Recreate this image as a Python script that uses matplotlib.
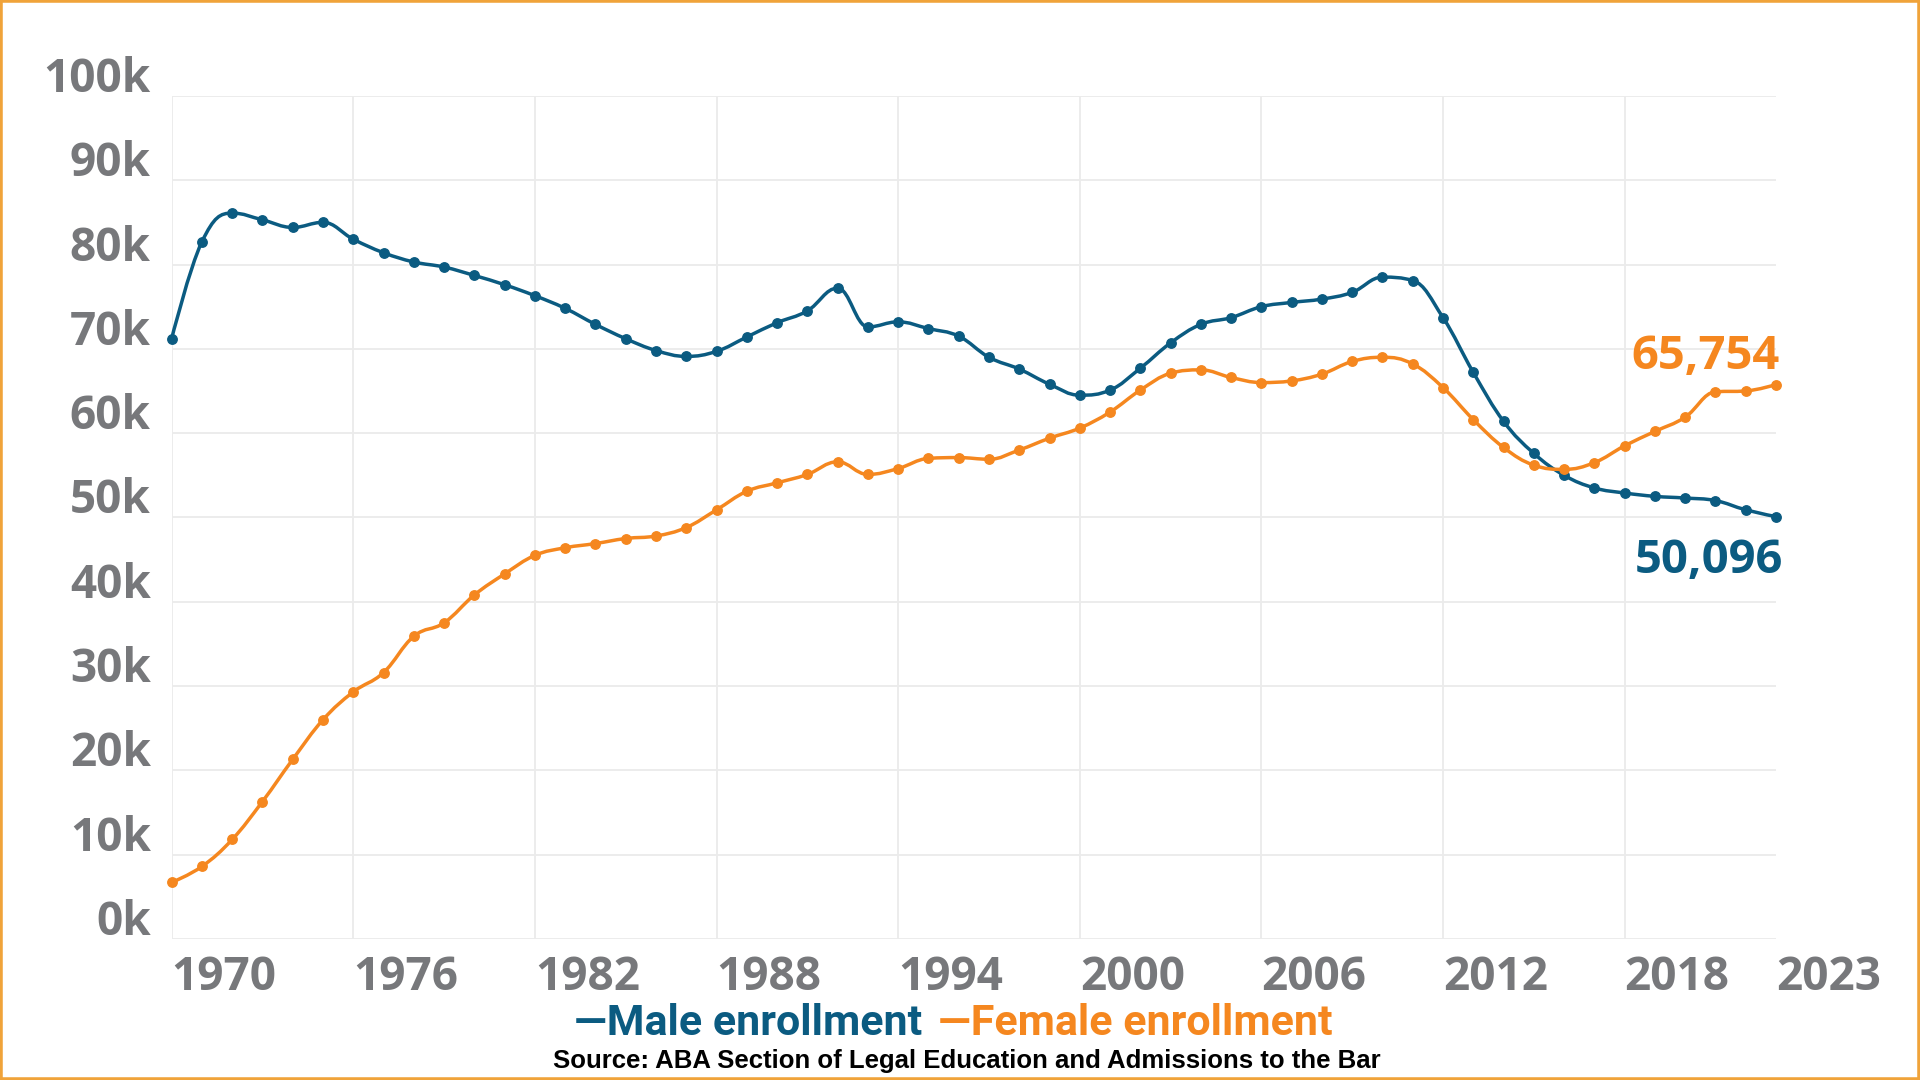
import matplotlib.pyplot as plt
import numpy as np
from matplotlib.path import Path
from matplotlib.patches import PathPatch, Rectangle
from matplotlib.transforms import ScaledTranslation

plt.rcParams['font.family'] = ['Open Sans', 'DejaVu Sans']

# Данные (тыс. студентов)
years = list(range(1970, 2024))
male = [71.2, 82.7, 86.1, 85.3, 84.4, 85.0, 83.0, 81.4, 80.3, 79.7,
        78.7, 77.6, 76.3, 74.8, 72.9, 71.2, 69.8, 69.1, 69.7, 71.4,
        73.1, 74.5, 77.2, 72.6, 73.2, 72.4, 71.5, 69.0, 67.6, 65.8,
        64.5, 65.1, 67.7, 70.7, 72.9, 73.7, 75.0, 75.5, 75.9, 76.7,
        78.5, 78.1, 73.7, 67.2, 61.4, 57.6, 55.0, 53.5, 52.9, 52.5,
        52.3, 52.0, 50.9, 50.096]
female = [6.7, 8.6, 11.8, 16.3, 21.3, 26.0, 29.3, 31.6, 35.9, 37.5,
          40.8, 43.3, 45.5, 46.4, 46.9, 47.5, 47.8, 48.8, 50.9, 53.1,
          54.1, 55.1, 56.6, 55.1, 55.8, 57.0, 57.1, 56.9, 58.0, 59.4,
          60.6, 62.5, 65.1, 67.1, 67.5, 66.6, 66.0, 66.2, 67.0, 68.5,
          69.0, 68.2, 65.4, 61.6, 58.3, 56.2, 55.7, 56.5, 58.5, 60.2,
          61.9, 64.9, 65.0, 65.754]
x_ticks = [1970, 1976, 1982, 1988, 1994, 2000, 2006, 2012, 2018, 2023]
y_ticks = [0, 10, 20, 30, 40, 50, 60, 70, 80, 90, 100]
y_labels = [f'{v}k' for v in y_ticks]
series_names = ['Male enrollment', 'Female enrollment']
source = 'Source: ABA Section of Legal Education and Admissions to the Bar'

blue = '#0b5b81'
orange = '#f5871f'
gray = '#77787b'
grid_c = '#ebebeb'


def spline_path(xs, ys, s=1.5):
    # сглаженная линия (кубические Безье, как spline в Highcharts)
    xs = np.asarray(xs, float)
    ys = np.asarray(ys, float)
    n = len(xs)
    lx, ly, rx, ry = xs.copy(), ys.copy(), xs.copy(), ys.copy()
    for i in range(1, n - 1):
        lcx = (s * xs[i] + xs[i - 1]) / (s + 1)
        lcy = (s * ys[i] + ys[i - 1]) / (s + 1)
        rcx = (s * xs[i] + xs[i + 1]) / (s + 1)
        rcy = (s * ys[i] + ys[i + 1]) / (s + 1)
        corr = (rcy - lcy) * (rcx - xs[i]) / (rcx - lcx) + ys[i] - rcy
        lcy += corr
        rcy += corr
        if lcy > ys[i - 1] and lcy > ys[i]:
            lcy = max(ys[i - 1], ys[i]); rcy = 2 * ys[i] - lcy
        elif lcy < ys[i - 1] and lcy < ys[i]:
            lcy = min(ys[i - 1], ys[i]); rcy = 2 * ys[i] - lcy
        if rcy > ys[i + 1] and rcy > ys[i]:
            rcy = max(ys[i + 1], ys[i]); lcy = 2 * ys[i] - rcy
        elif rcy < ys[i + 1] and rcy < ys[i]:
            rcy = min(ys[i + 1], ys[i]); lcy = 2 * ys[i] - rcy
        lx[i], ly[i], rx[i], ry[i] = lcx, lcy, rcx, rcy
    verts = [(xs[0], ys[0])]
    codes = [Path.MOVETO]
    for i in range(1, n):
        verts += [(rx[i - 1], ry[i - 1]), (lx[i], ly[i]), (xs[i], ys[i])]
        codes += [Path.CURVE4] * 3
    return Path(verts, codes)


fig = plt.figure(figsize=(19.2, 10.8), dpi=100)
ax = fig.add_axes([0.0894, 0.1306, 0.8356, 0.7806])

for vals, col in [(male, blue), (female, orange)]:
    ax.add_patch(PathPatch(spline_path(years, vals), fill=False, edgecolor=col,
                           lw=2.5, zorder=3, clip_on=False, capstyle='round'))
    ax.plot(years, vals, 'o', color=col, markersize=6.8, zorder=4, clip_on=False)

ax.set_xlim(1970, 2023)
ax.set_ylim(0, 100)
for sp in ax.spines.values():
    sp.set_visible(False)

# Сетка
ax.set_yticks(y_ticks)
ax.set_yticklabels(y_labels)
ax.yaxis.grid(True, color=grid_c, lw=1.3)
for yr in x_ticks[:-1]:
    ax.axvline(yr, color=grid_c, lw=1.3, zorder=0)
ax.set_axisbelow(True)

ax.set_xticks(x_ticks)
ax.set_xticklabels([str(y) for y in x_ticks], ha='left')
ax.tick_params(axis='x', length=0, pad=11, labelsize=33, labelcolor=gray)
ax.tick_params(axis='y', length=0, pad=15, labelsize=33, labelcolor=gray)
for lab in ax.get_xticklabels() + ax.get_yticklabels():
    lab.set_fontweight('bold')
for lab in ax.get_yticklabels():
    lab.set_va('baseline')
    lab.set_transform(lab.get_transform() + ScaledTranslation(0, 4 / 100, fig.dpi_scale_trans))

# Подписи последних значений
ax.annotate(f'{round(female[-1] * 1000):,}', (years[-1], female[-1]), xytext=(4, 16),
            textcoords='offset pixels', ha='right', va='baseline', color=orange,
            fontsize=34, fontweight='bold')
ax.annotate(f'{round(male[-1] * 1000):,}', (years[-1], male[-1]), xytext=(7, -56),
            textcoords='offset pixels', ha='right', va='baseline', color=blue,
            fontsize=34, fontweight='bold')

# Легенда и источник
fig.text(922 / 1920, 0.0417, '\u2014' + series_names[0], ha='right', va='baseline',
         color=blue, fontsize=31, fontweight='bold', family=['Roboto', 'DejaVu Sans'])
fig.text(938 / 1920, 0.0417, '\u2014' + series_names[1], ha='left', va='baseline',
         color=orange, fontsize=31, fontweight='bold', family=['Roboto', 'DejaVu Sans'])
fig.text(967 / 1920, 0.0115, source, ha='center', va='baseline', color='black',
         fontsize=18.5, fontweight='bold', family=['Liberation Sans', 'DejaVu Sans'])

# Рамка
fig.add_artist(Rectangle((0, 0), 1, 1, transform=fig.transFigure, fill=False,
                         edgecolor='#f0a33a', lw=4))

fig.savefig('out.png', dpi=100)
